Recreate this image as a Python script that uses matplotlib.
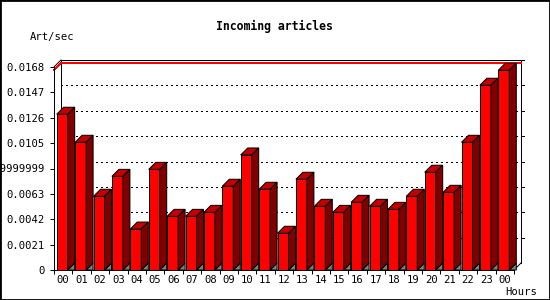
import matplotlib
matplotlib.use('Agg')
import matplotlib.pyplot as plt
from matplotlib.patches import Polygon, Rectangle

hours = ['00', '01', '02', '03', '04', '05', '06', '07', '08', '09', '10', '11',
         '12', '13', '14', '15', '16', '17', '18', '19', '20', '21', '22', '23', '00']
rates = [0.01289, 0.01057, 0.00610, 0.00775, 0.00339, 0.00833, 0.00444, 0.00444,
         0.00477, 0.00693, 0.00952, 0.00668, 0.00304, 0.00751, 0.00527, 0.00477,
         0.00560, 0.00527, 0.00502, 0.00610, 0.00809, 0.00643, 0.01057, 0.01529,
         0.01653]
ytick_values = [0, 0.0021, 0.0042, 0.0063, 0.0084, 0.0105, 0.0126, 0.0147, 0.0168]
ytick_labels = ['0', '0.0021', '0.0042', '0.0063', '0.008399999999999',
                '0.0105', '0.0126', '0.0147', '0.0168']

FRONT = '#ff0000'
TOP = '#c40000'
SIDE = '#800000'
FLOOR = '#808080'
MONO = 'DejaVu Sans Mono'
PX = 0.72  # one pixel in points at 100 dpi

W, H = 550, 300
fig = plt.figure(figsize=(W / 100, H / 100), dpi=100)
ax = fig.add_axes([54 / W, 30 / H, 460 / W, 203 / H])
n = len(hours)
ymax = ytick_values[-1]
ax.set_xlim(0, n)
ax.set_ylim(0, ymax)
px_x = n / 460
px_y = ymax / 203
dx, dy = 7 * px_x, 7 * px_y

# back wall
ax.plot([dx, dx, n + dx, n + dx], [dy, ymax + dy, ymax + dy, dy],
        color='black', lw=PX, zorder=1, clip_on=False)
ax.plot([0, dx], [ymax, ymax + dy], color='black', lw=PX, zorder=1, clip_on=False)
ax.plot([n, n + dx], [0, dy], color='black', lw=PX, zorder=1, clip_on=False)
for v in ytick_values[1:-1]:
    ax.plot([dx, n + dx], [v + dy, v + dy], color='black', lw=PX,
            dashes=(2, 3), antialiased=False, zorder=1.5, clip_on=False)
for v in ytick_values[1:]:
    ax.plot([n + dx, n + dx + 3 * px_x], [v + dy, v + dy], color='black',
            lw=PX, zorder=1.5, clip_on=False)

# max line
m = max(rates)
ax.plot([0, dx, n + dx], [m, m + dy, m + dy], color='red', lw=PX,
        antialiased=False, zorder=2, clip_on=False)

# bars
off = 2.7 / 18.4
w = 11 / 18.4
for i, v in enumerate(rates):
    x0 = i + off
    x1 = x0 + w
    kw = dict(edgecolor='black', lw=PX, zorder=3, clip_on=False)
    ax.add_patch(Polygon([(x1, 0), (x1 + dx, dy), (x1 + dx, 0)],
                         facecolor=FLOOR, **kw))
    ax.add_patch(Rectangle((x0, 0), w, v, facecolor=FRONT, **kw))
    ax.add_patch(Polygon([(x0, v), (x1, v), (x1 + dx, v + dy), (x0 + dx, v + dy)],
                         facecolor=TOP, **kw))
    ax.add_patch(Polygon([(x1, 0), (x1, v), (x1 + dx, v + dy), (x1 + dx, dy)],
                         facecolor=SIDE, **kw))

# axes
for s in ['top', 'right']:
    ax.spines[s].set_visible(False)
for s in ['left', 'bottom']:
    ax.spines[s].set_linewidth(PX)
    ax.spines[s].set_zorder(4)
ax.set_facecolor('none')
ax.set_xticks(range(n + 1))
ax.set_xticklabels([])
ax.set_xticks([i + 0.5 for i in range(n)], minor=True)
ax.set_xticklabels(hours, minor=True, family=MONO, fontsize=7.6)
ax.tick_params(axis='x', which='major', length=3, width=PX, direction='out')
ax.tick_params(axis='x', which='minor', length=0, pad=3.6)
ax.set_yticks(ytick_values)
ax.set_yticklabels(ytick_labels, family=MONO, fontsize=7.6)
ax.tick_params(axis='y', length=3, width=PX, direction='out', pad=3.6)

fig.text(274 / W, 1 - 26.7 / H, 'Incoming articles', ha='center', va='center',
         family=MONO, fontweight='bold', fontsize=8.3)
fig.text(30 / W, 1 - 37 / H, 'Art/sec', ha='left', va='center',
         family=MONO, fontsize=7.6)
fig.text(505 / W, 1 - 292 / H, 'Hours', ha='left', va='center',
         family=MONO, fontsize=7.6)

fig.add_artist(Rectangle((0, 0), 1, 1, transform=fig.transFigure, fill=False,
                         edgecolor='black', lw=2))

fig.savefig('out.png', dpi=100, facecolor='white')
